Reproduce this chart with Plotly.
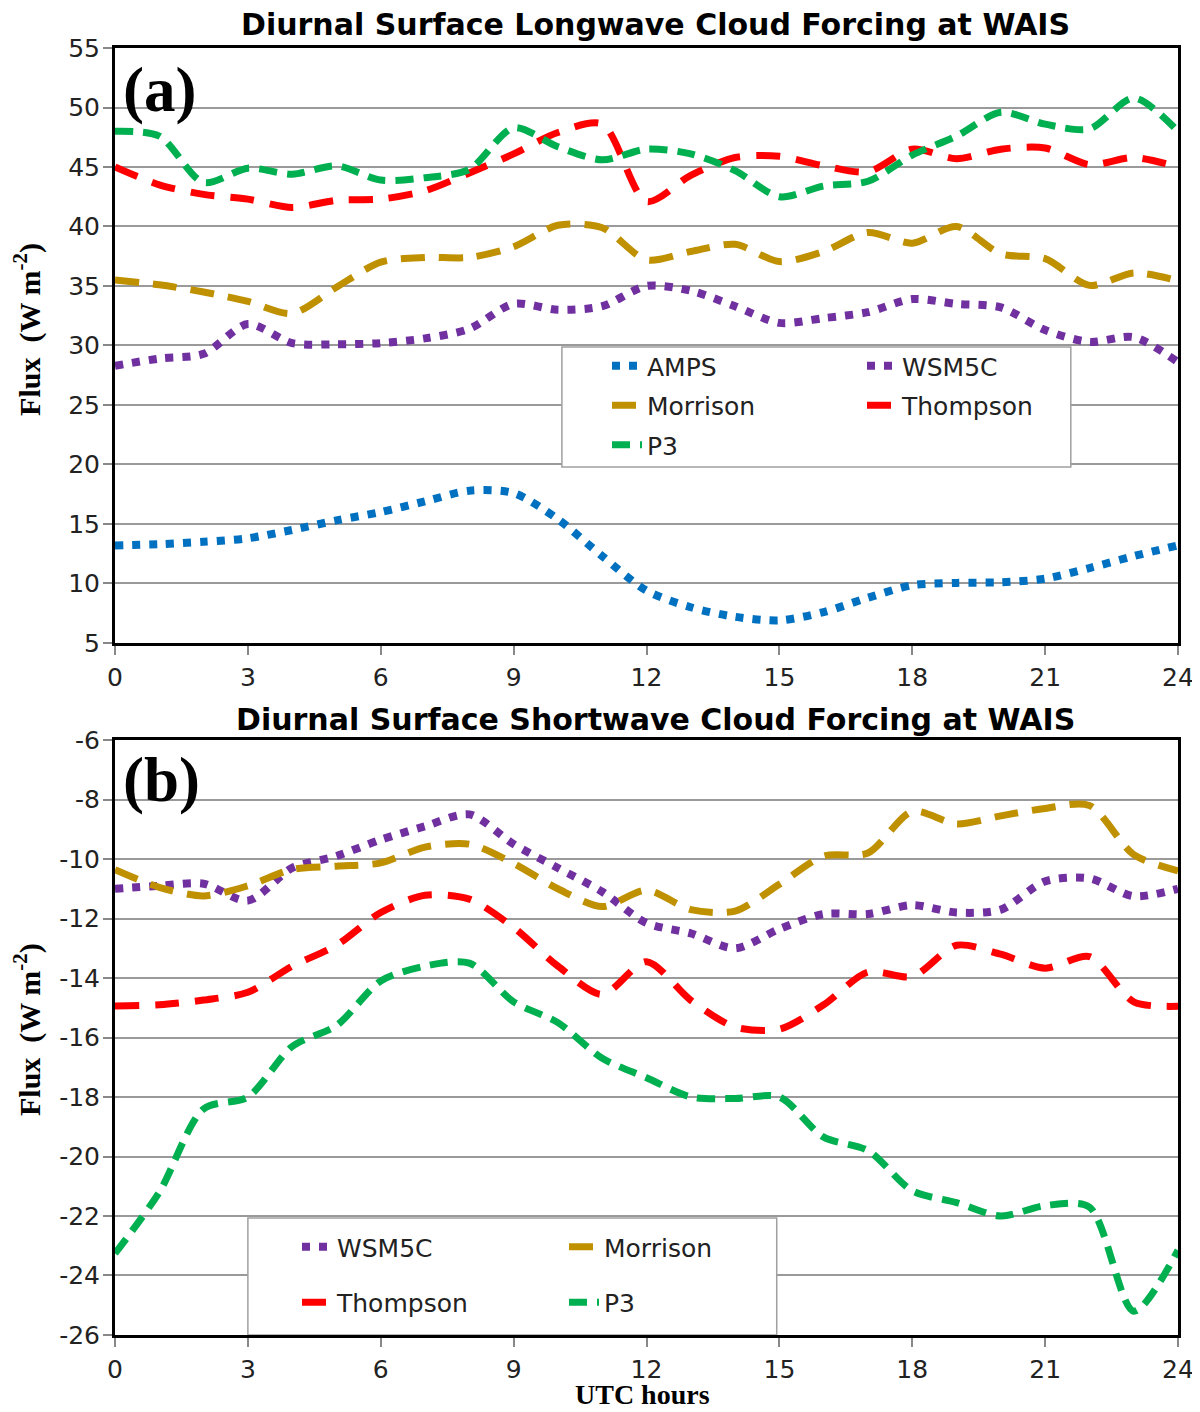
import plotly.graph_objects as go
from plotly.subplots import make_subplots

# hourly values (UTC hours 0..24)
hours = list(range(25))
hour_ticks = [0, 3, 6, 9, 12, 15, 18, 21, 24]
lw_ticks = [5, 10, 15, 20, 25, 30, 35, 40, 45, 50, 55]
sw_ticks = [-26, -24, -22, -20, -18, -16, -14, -12, -10, -8, -6]

# (a) longwave cloud forcing, W m-2
lw_amps = [13.2, 13.3, 13.5, 13.8, 14.5, 15.3, 16.0, 16.9, 17.8, 17.6, 15.4, 12.3, 9.4,
           8.0, 7.2, 6.9, 7.6, 8.8, 9.85, 10.05, 10.1, 10.4, 11.3, 12.3, 13.2]
lw_wsm5c = [28.3, 28.9, 29.3, 31.8, 30.2, 30.1, 30.2, 30.6, 31.4, 33.5, 33.0, 33.3, 35.0,
            34.6, 33.3, 31.9, 32.3, 32.8, 33.9, 33.5, 33.2, 31.3, 30.3, 30.7, 28.6]
lw_morrison = [35.5, 35.1, 34.5, 33.7, 32.7, 34.9, 37.0, 37.4, 37.4, 38.3, 40.1, 39.9, 37.2,
               37.9, 38.5, 37.05, 37.9, 39.5, 38.6, 40.0, 37.7, 37.3, 35.05, 36.1, 35.45]
lw_thompson = [45.0, 43.5, 42.7, 42.3, 41.6, 42.2, 42.3, 43.0, 44.5, 46.1, 47.9, 48.6, 42.1,
               44.3, 45.8, 45.9, 45.1, 44.6, 46.5, 45.7, 46.5, 46.6, 45.2, 45.8, 45.0]
lw_p3 = [48.0, 47.6, 43.7, 44.9, 44.4, 45.1, 43.9, 44.1, 44.8, 48.3, 46.7, 45.6, 46.5,
         46.1, 44.7, 42.5, 43.4, 43.8, 46.0, 47.6, 49.6, 48.6, 48.2, 50.8, 48.0]

# (b) shortwave cloud forcing, W m-2
sw_wsm5c = [-11.0, -10.9, -10.83, -11.4, -10.3, -9.9, -9.35, -8.9, -8.5, -9.5, -10.3, -11.1, -12.15,
            -12.5, -13.0, -12.35, -11.85, -11.85, -11.55, -11.8, -11.7, -10.75, -10.65, -11.25, -11.0]
sw_morrison = [-10.36, -10.95, -11.24, -10.9, -10.35, -10.24, -10.13, -9.6, -9.5, -10.15, -11.0, -11.6, -11.05,
               -11.7, -11.75, -10.85, -9.9, -9.8, -8.4, -8.82, -8.55, -8.3, -8.2, -9.85, -10.4]
sw_thompson = [-14.94, -14.9, -14.74, -14.48, -13.6, -12.9, -11.8, -11.22, -11.35, -12.3, -13.6, -14.55, -13.45,
               -14.75, -15.65, -15.72, -14.9, -13.8, -13.95, -12.9, -13.2, -13.67, -13.28, -14.8, -14.95]
sw_p3 = [-23.26, -21.2, -18.4, -18.0, -16.3, -15.6, -14.1, -13.6, -13.5, -14.8, -15.5, -16.7, -17.35,
         -18.0, -18.05, -18.0, -19.35, -19.8, -21.15, -21.55, -22.0, -21.65, -21.7, -25.2, -23.15]

styles = {
    "AMPS": dict(color="#0070C0", width=8, dash="8px,9px"),
    "WSM5C": dict(color="#7030A0", width=8, dash="8px,9px"),
    "Morrison": dict(color="#BF9000", width=7, dash="24px,14px"),
    "Thompson": dict(color="#FF0000", width=7, dash="24px,16px"),
    "P3": dict(color="#00B050", width=7, dash="18px,10px"),
}

fig = make_subplots(rows=2, cols=1)

top = [("AMPS", lw_amps, "legend"), ("WSM5C", lw_wsm5c, "legend2"),
       ("Morrison", lw_morrison, "legend"), ("Thompson", lw_thompson, "legend2"),
       ("P3", lw_p3, "legend")]
for name, vals, lg in top:
    fig.add_trace(go.Scatter(x=hours, y=vals, name=name, mode="lines",
                             line=dict(shape="spline", smoothing=0.8, **styles[name]),
                             legend=lg, legendgroup="a" + name), row=1, col=1)

bottom = [("WSM5C", sw_wsm5c, "legend3"), ("Morrison", sw_morrison, "legend4"),
          ("Thompson", sw_thompson, "legend3"), ("P3", sw_p3, "legend4")]
for name, vals, lg in bottom:
    fig.add_trace(go.Scatter(x=hours, y=vals, name=name, mode="lines",
                             line=dict(shape="spline", smoothing=0.8, **styles[name]),
                             legend=lg, legendgroup="b" + name), row=2, col=1)

axis_common = dict(showline=True, linewidth=3, linecolor="black", mirror=True,
                   ticks="outside", ticklen=9, tickwidth=1.5, tickcolor="#888",
                   tickfont=dict(family="DejaVu Sans", size=25, color="#222"),
                   zeroline=False, automargin=False)
fig.update_xaxes(range=[0, 24], tickvals=hour_ticks, showgrid=False,
                 ticklabelstandoff=1, **axis_common)
fig.update_yaxes(showgrid=True, gridcolor="#9a9a9a", gridwidth=1.5,
                 ticklabelstandoff=-2, **axis_common)
fig.update_xaxes(domain=[0, 1])
fig.update_yaxes(range=[5, 55], tickvals=lw_ticks, ticktext=[str(t) for t in lw_ticks],
                 domain=[0.5377, 1.0], row=1, col=1)
fig.update_yaxes(range=[-26, -6], tickvals=sw_ticks, ticktext=[str(t) for t in sw_ticks],
                 domain=[0.0, 0.4623], row=2, col=1)

title_font = dict(family="DejaVu Sans", size=30, color="black")
serif_bold = dict(family="Liberation Serif, Times New Roman", size=30, color="black")
label_font = dict(family="Liberation Serif, Times New Roman", size=63, color="black")

annotations = [
    dict(text="<b>Diurnal Surface Longwave Cloud Forcing at WAIS</b>", x=0.508, y=1.0179,
         font=title_font),
    dict(text="<b>Diurnal Surface Shortwave Cloud Forcing at WAIS</b>", x=0.508, y=0.4786,
         font=title_font),
    dict(text="<b>Flux  (W m<sup>-2</sup>)</b>", x=-0.0818, y=0.781, textangle=-90,
         font=serif_bold),
    dict(text="<b>Flux  (W m<sup>-2</sup>)</b>", x=-0.0818, y=0.237, textangle=-90,
         font=serif_bold),
    dict(text="<b>UTC hours</b>", x=0.496, y=-0.0466,
         font={**serif_bold, "size": 28}),
    dict(text="<b>(a)</b>", x=0.0423, y=0.967, font=label_font),
    dict(text="<b>(b)</b>", x=0.0442, y=0.431, font=label_font),
]
for a in annotations:
    a.update(xref="paper", yref="paper", showarrow=False, xanchor="center", yanchor="middle")

# legend frames
shapes = [
    dict(type="rect", xref="x", yref="y", x0=10.09, x1=21.58, y0=19.79, y1=29.87,
         fillcolor="white", line=dict(color="#a0a0a0", width=1.5), layer="above"),
    dict(type="rect", xref="x2", yref="y2", x0=3.0, x1=14.94, y0=-26, y1=-22.07,
         fillcolor="white", line=dict(color="#a0a0a0", width=1.5), layer="above"),
]

leg_font = dict(family="DejaVu Sans", size=25, color="#222")
leg_common = dict(font=leg_font, bgcolor="rgba(0,0,0,0)", borderwidth=0,
                  xanchor="left", yanchor="top", tracegroupgap=4)
top_y = (1335 - 343) / 1287
bot_y = (1335 - 1224) / 1287

# the page body adds an 8px offset, so the figure is 8px smaller with trimmed margins
fig.update_layout(
    width=1192, height=1404,
    margin=dict(l=107, r=22, t=40, b=77),
    paper_bgcolor="white", plot_bgcolor="white",
    showlegend=True,
    annotations=annotations,
    shapes=shapes,
    legend=dict(x=(607 - 115) / 1063, y=top_y, **leg_common),
    legend2=dict(x=(862 - 115) / 1063, y=top_y, **leg_common),
    legend3=dict(x=(297 - 115) / 1063, y=bot_y, **{**leg_common, "tracegroupgap": 20}),
    legend4=dict(x=(564 - 115) / 1063, y=bot_y, **{**leg_common, "tracegroupgap": 20}),
)

fig.write_html("out.html")
